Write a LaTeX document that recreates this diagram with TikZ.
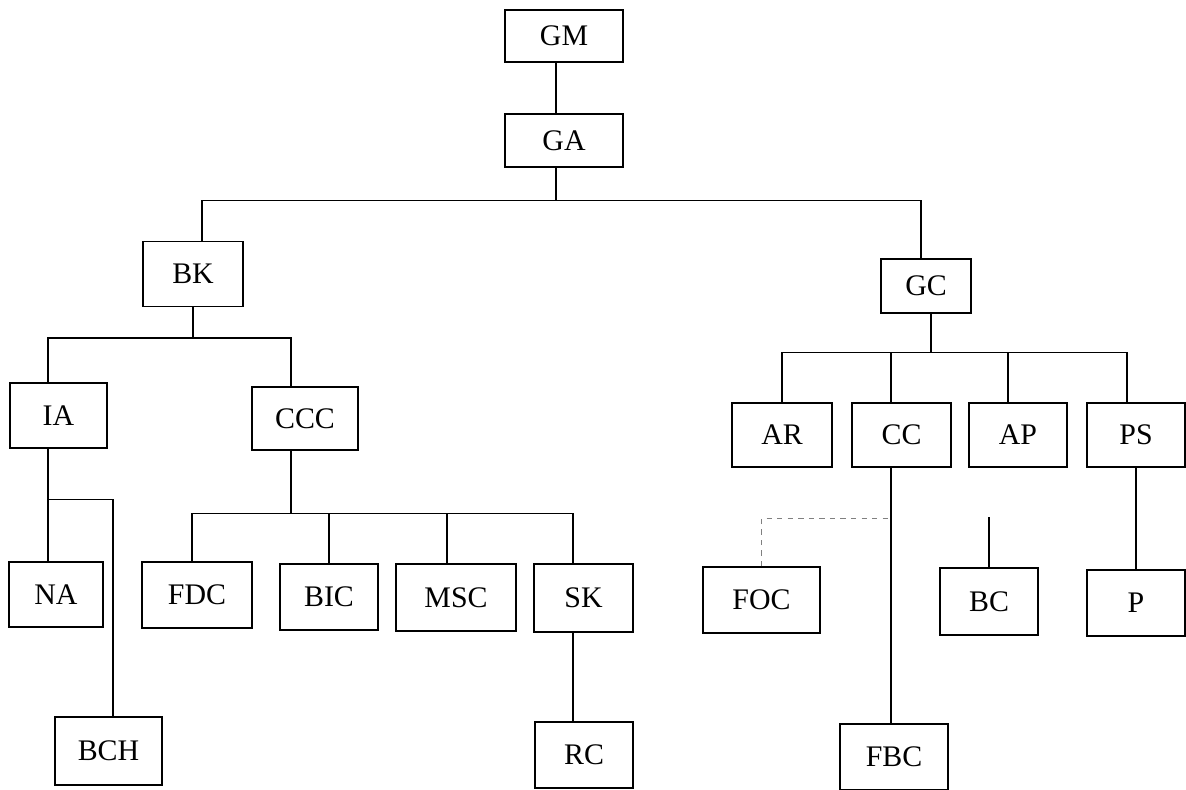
\documentclass[tikz,border=0pt]{standalone}
\usepackage{fontspec}
\setmainfont{Liberation Serif}
\usetikzlibrary{positioning,calc}

\begin{document}
\begin{tikzpicture}[
    unit/.style={draw, line width=0.8pt, fill=white, font=\fontsize{17}{19}\selectfont,
                 inner sep=1pt, minimum height=13mm, minimum width=#1},
    unit/.default=20mm,
    link/.style={line width=0.8pt},
    faint/.style={line width=0.6pt, gray, dashed},
]
  \useasboundingbox (0,0) rectangle (23.72,-15.8);

  % ---------------- top management ----------------
  \node[unit=23.6mm, minimum height=10.4mm] (gm) at (11.28,-0.72) {GM};
  \node[unit=23.6mm, minimum height=10.6mm] (ga) at (11.28,-2.81) {GA};
  \node[unit] (bk) at (3.86,-5.48) {BK};
  \node[unit=18mm, minimum height=10.8mm] (gc) at (18.52,-5.72) {GC};

  % ---------------- left branch ----------------
  \node[unit=19.4mm] (ia)  at (1.17,-8.31) {IA};
  \node[unit=21.2mm, minimum height=12.6mm] (ccc) at (6.10,-8.37) {CCC};
  \node[unit=18.8mm] (na)  at (1.12,-11.89) {NA};
  \node[unit=21.4mm, minimum height=13.6mm] (bch) at (2.17,-15.02) {BCH};
  \node[unit=22mm, minimum height=13.2mm] (fdc) at (3.94,-11.90) {FDC};
  \node[unit=19.6mm, minimum height=13.2mm] (bic) at (6.58,-11.94) {BIC};
  \node[unit=24mm, minimum height=13.4mm] (msc) at (9.12,-11.95) {MSC};
  \node[unit=19.8mm, minimum height=13.6mm] (sk)  at (11.67,-11.96) {SK};
  \node[unit=19.6mm, minimum height=13.2mm] (rc)  at (11.68,-15.10) {RC};

  % ---------------- right branch ----------------
  \node[unit=20mm, minimum height=12.8mm] (ar) at (15.64,-8.70) {AR};
  \node[unit=19.8mm, minimum height=12.8mm] (cc) at (18.03,-8.70) {CC};
  \node[unit=19.6mm, minimum height=12.8mm] (ap) at (20.36,-8.70) {AP};
  \node[unit=19.6mm, minimum height=12.8mm] (ps) at (22.72,-8.70) {PS};
  \node[unit=23.4mm, minimum height=13.2mm] (foc) at (15.23,-12.00) {FOC};
  \node[unit=19.6mm, minimum height=13.4mm] (bc)  at (19.78,-12.03) {BC};
  \node[unit=19.6mm, minimum height=13.2mm] (p)   at (22.72,-12.06) {P};
  \node[unit=21.6mm, minimum height=13.2mm] (fbc) at (17.88,-15.14) {FBC};

  % ---------------- connectors ----------------
  % GM -> GA -> BK, GC
  \draw[link] ([xshift=-1.6mm]gm.south) -- ([xshift=-1.6mm]ga.north);
  \coordinate (gaBus) at ($(ga.south)+(-0.16,-0.66)$);
  \draw[link] (ga.south -| gaBus) -- (gaBus);
  \draw[link] ([xshift=1.8mm]bk.north) |- (gaBus) -| ([xshift=-1mm]gc.north);
  % BK -> IA, CCC
  \coordinate (bkBus) at ($(bk.south)+(0,-0.62)$);
  \draw[link] (bk.south) -- (bkBus);
  \draw[link] ([xshift=-2.1mm]ia.north) |- (bkBus) -| ([xshift=-2.8mm]ccc.north);
  % IA -> NA, BCH
  \draw[link] ([xshift=-2.1mm]ia.south) -- ([xshift=-2.1mm]ia.south |- na.north);
  \coordinate (iaSplit) at ($([xshift=-2.1mm]ia.south)+(0,-1.02)$);
  \draw[link] (iaSplit) -| ([xshift=0.9mm]bch.north);
  % CCC -> FDC, BIC, MSC, SK
  \coordinate (cccBus) at ($([xshift=-2.8mm]ccc.south)+(0,-1.26)$);
  \draw[link] ([xshift=-2.8mm]ccc.south) -- (cccBus);
  \draw[link] ([xshift=-1mm]fdc.north) |- (cccBus) -| ([xshift=-2.1mm]sk.north);
  \draw[link] (bic.north) -- (bic.north |- cccBus);
  \draw[link] ([xshift=-1.8mm]msc.north) -- ([xshift=-1.8mm]msc.north |- cccBus);
  % SK -> RC
  \draw[link] ([xshift=-2.1mm]sk.south) -- ([xshift=-2.1mm]sk.south |- rc.north);
  % GC -> AR, CC, AP, PS
  \coordinate (gcBus) at ($([xshift=1mm]gc.south)+(0,-0.78)$);
  \draw[link] ([xshift=1mm]gc.south) -- (gcBus);
  \draw[link] (ar.north) |- (gcBus) -| ([xshift=-1.8mm]ps.north);
  \draw[link] ([xshift=-2.1mm]cc.north) -- ([xshift=-2.1mm]cc.north |- gcBus);
  \draw[link] ([xshift=-2mm]ap.north) -- ([xshift=-2mm]ap.north |- gcBus);
  % CC -> FBC, FOC
  \draw[link] ([xshift=-2.1mm]cc.south) -- ([xshift=-2.1mm]cc.south |- fbc.north);
  \draw[faint] (foc.north) |- ([xshift=-2.1mm,yshift=-10.2mm]cc.south);
  % BC, PS -> P
  \coordinate (bcTop) at ([yshift=10mm]bc.north);
  \draw[link] (bcTop) -- (bc.north);
  \draw[link] (ps.south) -- (p.north);
\end{tikzpicture}
\end{document}
